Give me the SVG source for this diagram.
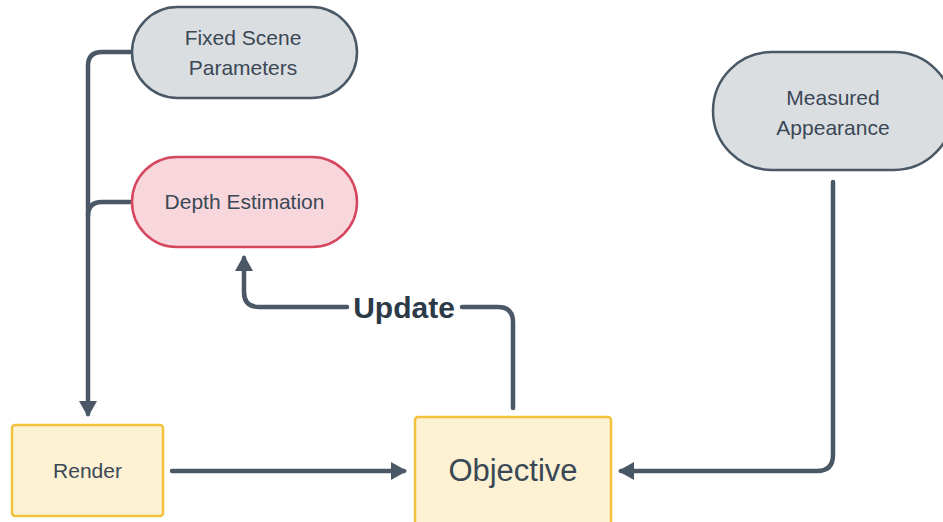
<svg xmlns="http://www.w3.org/2000/svg" width="943" height="522" viewBox="0 0 943 522">
  <style>
    .pill-gray { fill: #dbdee1; stroke: #4a5866; stroke-width: 2.5; }
    .pill-red { fill: #f8d7dc; stroke: #d5475e; stroke-width: 2.5; }
    .box { fill: #fdf1d3; stroke: #f2c13c; stroke-width: 2.5; }
    .label { font-family: "Liberation Sans", Arial, sans-serif; font-size: 21px; fill: #3a4755; text-anchor: middle; }
    .big { font-size: 31px; }
    .edge { fill: none; stroke: #4a5866; stroke-width: 4.5; stroke-linecap: round; stroke-linejoin: round; }
    .edge-label { font-family: "Liberation Sans", Arial, sans-serif; font-size: 30px; font-weight: bold; fill: #2c3a48; text-anchor: middle; }
  </style>
  <defs>
    <!-- tip sits 3px past the line end so the round cap stays hidden -->
    <marker id="arrow" markerUnits="userSpaceOnUse" markerWidth="18" markerHeight="20" refX="13" refY="9" orient="auto">
      <path d="M0,0 L16,9 L0,18 Z" fill="#4a5866"/>
    </marker>
  </defs>

  <rect width="943" height="522" fill="#ffffff"/>

  <g id="connectors">
    <!-- inputs merge into the Render box -->
    <path class="edge" d="M130,52 H102 Q88,52 88,66 V414" marker-end="url(#arrow)"/>
    <path class="edge" d="M130,202 H102 Q88,202 88,216"/>
    <!-- Render to Objective -->
    <path class="edge" d="M172,471 H404" marker-end="url(#arrow)"/>
    <!-- Measured Appearance to Objective -->
    <path class="edge" d="M833,182 V455 Q833,471 817,471 H621" marker-end="url(#arrow)"/>
    <!-- Update loop back to Depth Estimation -->
    <path class="edge" d="M513,408 V322 Q513,307 498,307 H462"/>
    <path class="edge" d="M347,307 H259 Q244,307 244,292 V258" marker-end="url(#arrow)"/>
    <text class="edge-label" x="404" y="318">Update</text>
  </g>

  <g id="fixed-scene-parameters">
    <rect class="pill-gray" x="132" y="7" width="225" height="91" rx="45.5"/>
    <text class="label" x="243" y="45">Fixed Scene</text>
    <text class="label" x="243" y="75">Parameters</text>
  </g>

  <g id="depth-estimation">
    <rect class="pill-red" x="132" y="157" width="225" height="90" rx="45"/>
    <text class="label" x="244.5" y="209">Depth Estimation</text>
  </g>

  <g id="measured-appearance">
    <rect class="pill-gray" x="713" y="52" width="240" height="118" rx="59"/>
    <text class="label" x="833" y="105">Measured</text>
    <text class="label" x="833" y="135">Appearance</text>
  </g>

  <g id="render">
    <rect class="box" x="12" y="425" width="151" height="91" rx="3"/>
    <text class="label" x="87.5" y="478">Render</text>
  </g>

  <g id="objective">
    <rect class="box" x="415" y="417" width="196" height="110" rx="3"/>
    <text class="label big" x="513" y="481">Objective</text>
  </g>
</svg>
